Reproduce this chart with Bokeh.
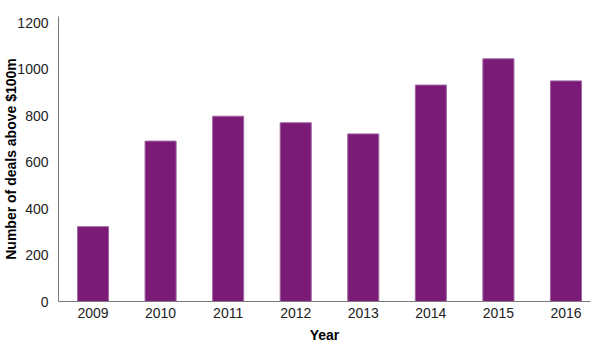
from bokeh.plotting import figure
from bokeh.models import ColumnDataSource, Range1d, FixedTicker
from bokeh.embed import file_html
from bokeh.resources import INLINE

years = [2009, 2010, 2011, 2012, 2013, 2014, 2015, 2016]
deals = [322, 690, 797, 769, 721, 931, 1044, 949]
y_ticks = [0, 200, 400, 600, 800, 1000, 1200]

src = ColumnDataSource(dict(year=years, deals=deals))

p = figure(width=600, height=350, output_backend="svg", toolbar_location=None,
           x_range=Range1d(2008.489, 2016.363), y_range=Range1d(0, 1226),
           min_border_left=58, min_border_right=10, min_border_top=16, min_border_bottom=49)

p.vbar(x="year", top="deals", width=0.46, source=src,
       fill_color="#7b1b78", line_color="#a068a0", line_width=1)

font = "Liberation Sans"
for ax in (p.xaxis[0], p.yaxis[0]):
    ax.axis_line_color = "#7a7a7a"
    ax.axis_line_width = 1
    ax.major_tick_line_color = None
    ax.minor_tick_line_color = None
    ax.major_label_text_font = font
    ax.major_label_text_font_size = "14px"
    ax.major_label_text_color = "#222222"
    ax.axis_label_text_font = font
    ax.axis_label_text_font_style = "bold"
    ax.axis_label_text_font_size = "14px"
    ax.axis_label_text_color = "#000000"

p.xaxis.ticker = FixedTicker(ticks=years)
p.yaxis.ticker = FixedTicker(ticks=y_ticks)
p.xaxis.axis_label = "Year"
p.yaxis.axis_label = "Number of deals above $100m"
p.xaxis.major_label_standoff = 0
p.yaxis.major_label_standoff = 4
p.xaxis.axis_label_standoff = 6
p.yaxis.axis_label_standoff = -5

p.xgrid.grid_line_color = None
p.ygrid.grid_line_color = None
p.outline_line_color = None

open("out.html", "w").write(file_html(p, INLINE))
